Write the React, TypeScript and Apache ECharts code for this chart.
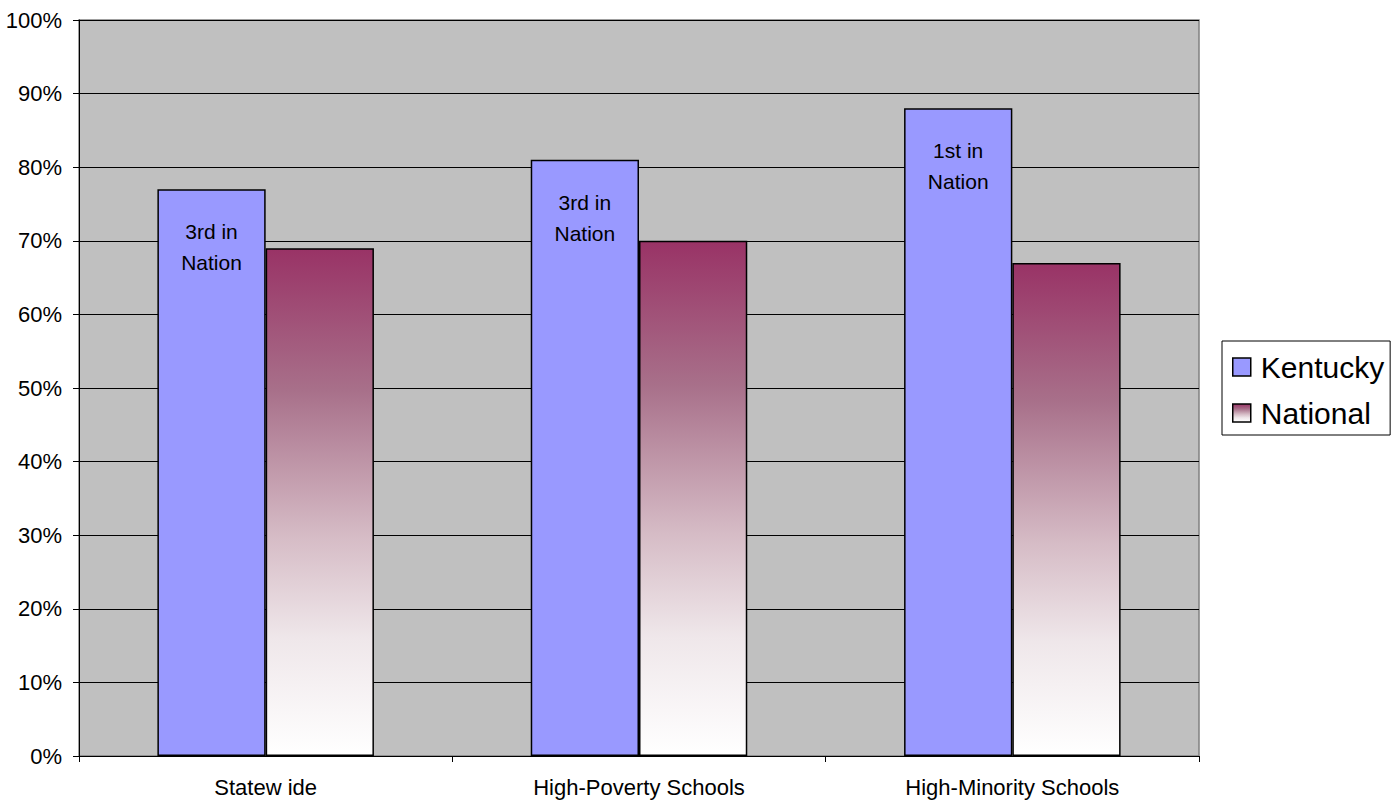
import React, { useEffect, useRef } from "react";
import * as echarts from "echarts";

const categories = ["Statew ide", "High-Poverty Schools", "High-Minority Schools"];
const kentucky = [77, 81, 88];
const national = [69, 70, 67];
const rankLabels = ["3rd in\nNation", "3rd in\nNation", "1st in\nNation"];
const yTicks = [0, 10, 20, 30, 40, 50, 60, 70, 80, 90, 100];

export default function App() {
  const ref = useRef<HTMLDivElement>(null);
  useEffect(() => {
    document.body.style.margin = "0";
    const chart = echarts.init(ref.current!, null, { renderer: "svg" });
    const font = "'Liberation Sans', Arial, sans-serif";
    chart.setOption({
      animation: false,
      backgroundColor: "#ffffff",
      textStyle: { fontFamily: font },
      grid: {
        left: 79,
        top: 20,
        right: 193,
        bottom: 48,
        show: true,
        backgroundColor: "#c0c0c0",
        borderColor: "#808080",
        borderWidth: 1.5,
      },
      legend: {
        orient: "vertical",
        left: 1222,
        top: 341,
        itemWidth: 18,
        itemHeight: 18,
        itemGap: 16,
        padding: [11, 6, 7, 10],
        borderColor: "#000",
        borderWidth: 1,
        backgroundColor: "#fff",
        textStyle: { fontSize: 30, color: "#000", fontFamily: font, padding: [0, 0, 0, 5] },
        data: [
          { name: "Kentucky", icon: "rect", itemStyle: { borderColor: "#000", borderWidth: 1.5 } },
          { name: "National", icon: "rect", itemStyle: { borderColor: "#000", borderWidth: 1.5 } },
        ],
      },
      xAxis: {
        type: "category",
        data: categories,
        axisLine: { show: true, lineStyle: { color: "#000", width: 1 } },
        axisTick: { show: true, alignWithLabel: false, length: 6, lineStyle: { color: "#000" } },
        axisLabel: { fontSize: 22, color: "#000", margin: 20, fontFamily: font },
      },
      yAxis: {
        type: "value",
        min: 0,
        max: 100,
        interval: 10,
        axisLine: { show: true, lineStyle: { color: "#000", width: 1 } },
        axisTick: { show: true, length: 6, lineStyle: { color: "#000" } },
        axisLabel: {
          fontSize: 22,
          color: "#000",
          margin: 17,
          fontFamily: font,
          formatter: (v: number) => (yTicks.includes(v) ? v + "%" : ""),
        },
        splitLine: { show: true, lineStyle: { color: "#000", width: 1 } },
      },
      series: [
        {
          name: "Kentucky",
          type: "bar",
          barGap: "0%",
          barCategoryGap: "42%",
          itemStyle: { color: "#9999ff", borderColor: "#000", borderWidth: 1.5 },
          data: kentucky.map((v, i) => ({
            value: v,
            label: {
              show: true,
              position: "insideTop",
              distance: 27,
              formatter: rankLabels[i],
              fontSize: 21,
              lineHeight: 31,
              color: "#000",
              fontFamily: font,
            },
          })),
        },
        {
          name: "National",
          type: "bar",
          itemStyle: {
            color: new echarts.graphic.LinearGradient(0, 0, 0, 1, [
              { offset: 0, color: "#993366" },
              { offset: 0.28, color: "#a8708a" },
              { offset: 0.57, color: "#d6bcc6" },
              { offset: 0.77, color: "#efe7ea" },
              { offset: 1, color: "#ffffff" },
            ]),
            borderColor: "#000",
            borderWidth: 1.5,
          },
          data: national,
        },
      ],
    });
    return () => chart.dispose();
  }, []);
  return <div ref={ref} style={{ width: 1392, height: 804 }} />;
}
